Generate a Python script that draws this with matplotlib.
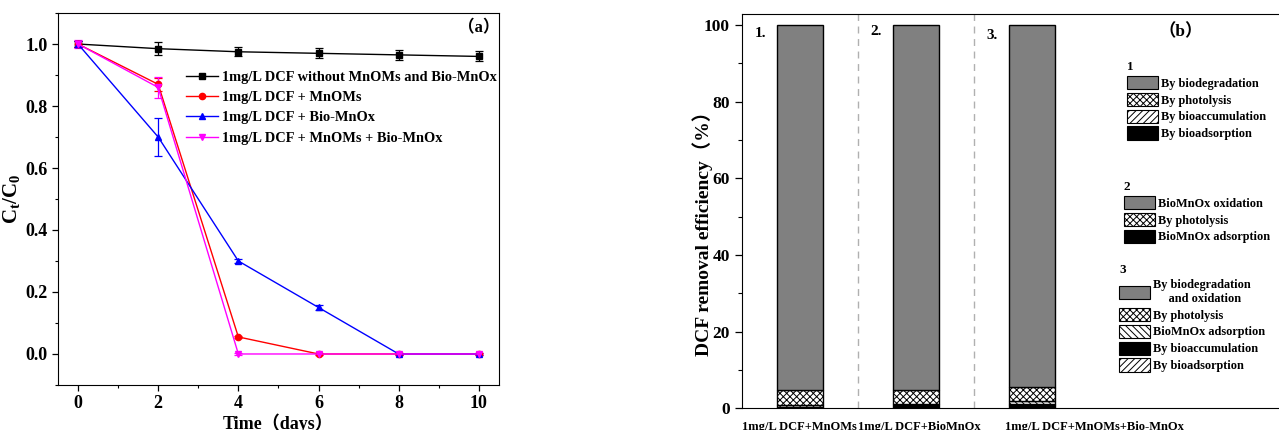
import matplotlib
matplotlib.use("Agg")
import matplotlib.pyplot as plt
from matplotlib.patches import Patch
from matplotlib.lines import Line2D
from matplotlib.ticker import MultipleLocator

plt.rcParams['font.family'] = ['Liberation Serif', 'Noto Sans CJK SC']
plt.rcParams['font.weight'] = 'bold'
plt.rcParams['mathtext.fontset'] = 'custom'
plt.rcParams['mathtext.bf'] = 'Liberation Serif:bold'
plt.rcParams['mathtext.rm'] = 'Liberation Serif:bold'
plt.rcParams['hatch.linewidth'] = 0.7

# ---------------- Panel (a) data ----------------
days = [0, 2, 4, 6, 8, 10]
ctrl = [1.0, 0.985, 0.975, 0.970, 0.965, 0.960]
ctrl_err = [0.01, 0.02, 0.015, 0.016, 0.017, 0.016]
mnoms = [1.0, 0.870, 0.055, 0.0, 0.0, 0.0]
mnoms_err = [0.01, 0.02, 0.004, 0.002, 0.002, 0.002]
biomnox = [1.0, 0.700, 0.300, 0.150, 0.0, 0.0]
biomnox_err = [0.01, 0.06, 0.007, 0.007, 0.002, 0.002]
both = [1.0, 0.860, 0.0, 0.0, 0.0, 0.0]
both_err = [0.012, 0.035, 0.002, 0.002, 0.002, 0.002]
series_labels = ['1mg/L DCF without MnOMs and Bio-MnOx',
                 '1mg/L DCF + MnOMs',
                 '1mg/L DCF + Bio-MnOx',
                 '1mg/L DCF + MnOMs + Bio-MnOx']

# ---------------- Panel (b) data ----------------
bar_pos = [1, 2, 3]
bar_names = ['1mg/L DCF+MnOMs', '1mg/L DCF+BioMnOx', '1mg/L DCF+MnOMs+Bio-MnOx']
# bar 1 (bottom -> top)
b1_bioadsorption = 0.3
b1_bioaccumulation = 0.6
b1_photolysis = 3.9
b1_biodegradation = 95.2
# bar 2
b2_adsorption = 1.0
b2_photolysis = 3.7
b2_oxidation = 95.3
# bar 3
b3_bioaccumulation = 0.8
b3_bioadsorption = 0.2
b3_adsorption = 0.8
b3_photolysis = 3.8
b3_biodeg_ox = 94.4

fig = plt.figure(figsize=(12.79, 4.30), dpi=100)

# ================= Panel (a) =================
ax1 = fig.add_axes([0.0453, 0.1047, 0.3448, 0.865])
styles = [
    (ctrl, ctrl_err, 'black', 's', 4),
    (mnoms, mnoms_err, 'red', 'o', 4.5),
    (biomnox, biomnox_err, 'blue', '^', 5),
    (both, both_err, 'magenta', 'v', 5),
]
handles = []
for (vals, errs, col, mk, ms), lab in zip(styles, series_labels):
    ax1.errorbar(days, vals, yerr=errs, color=col, marker=mk, markersize=ms,
                 linewidth=1.0, elinewidth=0.9, capsize=3, capthick=0.9)
    handles.append(Line2D([0], [0], color=col, marker=mk, markersize=ms, linewidth=1.0, label=lab))

ax1.set_xlim(-0.5, 10.5)
ax1.set_ylim(-0.1, 1.1)
ax1.set_xticks([0, 2, 4, 6, 8, 10])
ax1.set_yticks([0.0, 0.2, 0.4, 0.6, 0.8, 1.0])
ax1.xaxis.set_minor_locator(MultipleLocator(1))
ax1.yaxis.set_minor_locator(MultipleLocator(0.1))
ax1.tick_params(which='major', direction='out', length=4, width=0.9, labelsize=13, top=False, right=False)
ax1.tick_params(which='minor', direction='out', length=2.5, width=0.8, top=False, right=False)
for lab in ax1.get_xticklabels() + ax1.get_yticklabels():
    lab.set_fontweight('bold')
ax1.set_xlabel('Time（days）', fontsize=13, fontweight='bold', labelpad=1)
ax1.set_ylabel(r'$\mathbf{C_t/C_0}$', fontsize=15, labelpad=2)
ax1.text(0.955, 0.96, '（a）', transform=ax1.transAxes, fontsize=12, fontweight='bold',
         ha='center', va='center')
ax1.legend(handles=handles, loc='upper left', bbox_to_anchor=(0.29, 0.845), frameon=False,
           prop={'weight': 'bold', 'size': 10.4}, handlelength=2.2, handletextpad=0.3,
           labelspacing=0.5, borderaxespad=0, borderpad=0)

# ================= Panel (b) =================
ax2 = fig.add_axes([0.580, 0.0505, 0.4535, 0.917])
W = 0.4
gray = '#808080'
kw = dict(width=W, edgecolor='black', linewidth=1.0)

# bar 1
x = bar_pos[0]
bottom = 0
ax2.bar(x, b1_bioadsorption, bottom=bottom, color='black', **kw); bottom += b1_bioadsorption
ax2.bar(x, b1_bioaccumulation, bottom=bottom, color='white', hatch='/////', **kw); bottom += b1_bioaccumulation
ax2.bar(x, b1_photolysis, bottom=bottom, color='white', hatch='xxxxx', **kw); bottom += b1_photolysis
ax2.bar(x, b1_biodegradation, bottom=bottom, color=gray, **kw)

# bar 2
x = bar_pos[1]
bottom = 0
ax2.bar(x, b2_adsorption, bottom=bottom, color='black', **kw); bottom += b2_adsorption
ax2.bar(x, b2_photolysis, bottom=bottom, color='white', hatch='xxxxx', **kw); bottom += b2_photolysis
ax2.bar(x, b2_oxidation, bottom=bottom, color=gray, **kw)

# bar 3
x = bar_pos[2]
bottom = 0
ax2.bar(x, b3_bioaccumulation, bottom=bottom, color='black', **kw); bottom += b3_bioaccumulation
ax2.bar(x, b3_bioadsorption, bottom=bottom, color='white', hatch='/////', **kw); bottom += b3_bioadsorption
ax2.bar(x, b3_adsorption, bottom=bottom, color='white', hatch='\\\\\\\\\\', **kw); bottom += b3_adsorption
ax2.bar(x, b3_photolysis, bottom=bottom, color='white', hatch='xxxxx', **kw); bottom += b3_photolysis
ax2.bar(x, b3_biodeg_ox, bottom=bottom, color=gray, **kw)

for xv in [1.5, 2.5]:
    ax2.axvline(xv, color='#b0b0b0', linestyle=(0, (5, 4)), linewidth=1.0, zorder=0)

ax2.set_xlim(0.5, 5.5)
ax2.set_ylim(0, 102.9)
ax2.set_yticks([0, 20, 40, 60, 80, 100])
ax2.yaxis.set_minor_locator(MultipleLocator(10))
ax2.set_xticks([])
ax2.tick_params(which='major', direction='out', length=5, width=0.9, labelsize=12.5)
ax2.tick_params(which='minor', direction='out', length=3, width=0.8)
for lab in ax2.get_yticklabels():
    lab.set_fontweight('bold')
ax2.set_ylabel('DCF removal efficiency（%）', fontsize=14, fontweight='bold')
ax2.yaxis.set_label_coords(-0.05, 0.455)

# category labels under bars
label_x = [bar_pos[0], bar_pos[1] + 0.03, bar_pos[2] + 0.54]
for lx, name in zip(label_x, bar_names):
    ax2.text(lx, -3.2, name, ha='center', va='top', fontsize=9, fontweight='bold')

for bx, tag, ty in zip(bar_pos, ['1.', '2.', '3.'], [97.7, 98.2, 97.2]):
    ax2.text(bx - 0.34, ty, tag, ha='center', va='center', fontsize=11, fontweight='bold')
ax2.text(4.28, 98.3, '（b）', fontsize=12.5, fontweight='bold', ha='center', va='center')

leg_prop = {'weight': 'bold', 'size': 8.8}
leg_kw = dict(frameon=False, prop=leg_prop, handlelength=2.5, handleheight=1.3,
              handletextpad=0.3, labelspacing=0.25, borderpad=0, borderaxespad=0,
              alignment='left', title_fontproperties={'weight': 'bold', 'size': 9.5})

def P(fc, hatch=None, label=''):
    return Patch(facecolor=fc, edgecolor='black', hatch=hatch, linewidth=0.8, label=label)

lg1 = ax2.legend(handles=[P(gray, None, 'By biodegradation'),
                          P('white', 'xxxxx', 'By photolysis'),
                          P('white', '/////', 'By bioaccumulation'),
                          P('black', None, 'By bioadsorption')],
                 title='1', loc='upper left', bbox_to_anchor=(1127 / 1279, (430 - 61) / 430),
                 bbox_transform=fig.transFigure, **leg_kw)
ax2.add_artist(lg1)
lg2 = ax2.legend(handles=[P(gray, None, 'BioMnOx oxidation'),
                          P('white', 'xxxxx', 'By photolysis'),
                          P('black', None, 'BioMnOx adsorption')],
                 title='2', loc='upper left', bbox_to_anchor=(1124 / 1279, (430 - 181) / 430),
                 bbox_transform=fig.transFigure, **leg_kw)
ax2.add_artist(lg2)
lg3 = ax2.legend(handles=[P(gray, None, 'By biodegradation\n     and oxidation'),
                          P('white', 'xxxxx', 'By photolysis'),
                          P('white', '\\\\\\\\\\', 'BioMnOx adsorption'),
                          P('black', None, 'By bioaccumulation'),
                          P('white', '/////', 'By bioadsorption')],
                 title='3', loc='upper left', bbox_to_anchor=(1119 / 1279, (430 - 264) / 430),
                 bbox_transform=fig.transFigure, **leg_kw)

fig.savefig('out.png', dpi=100)
